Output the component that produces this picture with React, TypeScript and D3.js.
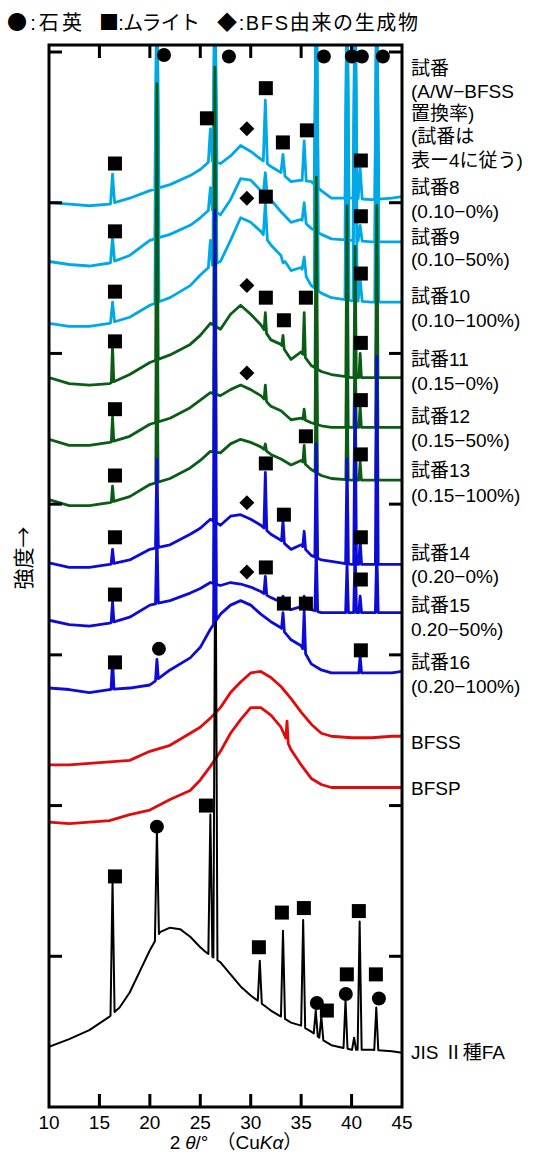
import React from 'react';
import * as d3 from 'd3';

const grid = [10, 12, 14, 16, 18, 20, 22, 24, 25, 26, 27, 28, 29, 30, 31, 32, 33, 34, 35, 36, 37, 38, 40, 42, 44, 45];
const gridFA = [10, 12, 14, 16, 17, 18, 19, 20, 21, 22, 23, 24, 25, 25.5, 27, 28, 29, 30, 31, 32, 33, 34, 35, 36, 37, 38, 40, 42, 44, 45];

// stacked intensities (arbitrary units), background of every pattern
const bg8 = [60.0, 59.9, 59.8, 59.9, 60.3, 60.8, 61.2, 61.8, 62.2, 62.8, 62.6, 63.1, 63.8, 63.4, 62.9, 62.4, 62.0, 61.4, 61.5, 61.4, 60.8, 60.3, 60.3, 60.2, 60.3, 60.4];
const bg9 = [56.1, 55.9, 55.8, 56.0, 56.5, 57.5, 57.9, 58.5, 59.0, 59.6, 59.2, 60.2, 61.6, 61.5, 60.8, 60.2, 59.4, 58.7, 58.9, 58.3, 57.9, 57.6, 57.5, 57.4, 57.4, 57.4];
const bg10 = [52.0, 51.8, 51.8, 52.0, 52.4, 53.2, 53.7, 54.5, 55.2, 55.8, 56.1, 57.5, 59.0, 58.7, 58.1, 57.2, 56.5, 55.5, 55.7, 54.5, 54.0, 53.7, 53.5, 53.4, 53.4, 53.4];
const bg11 = [48.4, 48.0, 47.9, 48.0, 48.6, 49.4, 49.9, 50.6, 51.2, 52.0, 51.6, 52.6, 53.2, 52.6, 51.9, 50.9, 50.6, 49.6, 50.1, 49.2, 48.8, 48.6, 48.4, 48.4, 48.4, 48.4];
const bg12 = [44.3, 43.9, 43.9, 44.1, 44.5, 45.3, 45.7, 46.4, 46.9, 47.4, 47.2, 47.6, 47.9, 47.6, 47.2, 46.5, 46.2, 45.6, 45.7, 45.4, 45.2, 45.1, 45.1, 45.1, 45.1, 45.1];
const bg13 = [40.3, 39.9, 39.9, 40.1, 40.5, 41.3, 41.7, 42.4, 42.9, 43.5, 43.4, 44.0, 44.3, 44.1, 43.8, 43.3, 43.0, 42.6, 42.9, 42.3, 41.9, 41.7, 41.6, 41.6, 41.6, 41.6];
const bg14 = [36.1, 35.8, 35.8, 36.0, 36.3, 37.0, 37.3, 38.0, 38.4, 39.0, 38.6, 39.2, 39.3, 39.0, 38.6, 38.0, 37.6, 37.0, 37.3, 36.6, 36.3, 36.2, 36.0, 36.0, 36.0, 36.0];
const bg15 = [32.3, 32.0, 31.9, 32.1, 32.5, 33.3, 33.6, 34.1, 34.4, 34.8, 34.6, 34.8, 34.7, 34.5, 34.2, 33.8, 33.5, 33.0, 33.2, 33.0, 32.8, 32.8, 32.8, 32.8, 32.8, 32.8];
const bg16 = [27.8, 27.7, 27.5, 27.7, 27.8, 28.0, 29.0, 29.8, 30.5, 31.7, 32.7, 33.3, 33.6, 33.3, 32.7, 32.2, 31.8, 31.0, 30.6, 29.4, 29.0, 28.8, 28.8, 28.8, 28.8, 28.9];
const bgBFSS = [22.7, 22.7, 22.8, 22.9, 23.0, 23.6, 24.0, 24.8, 25.2, 25.8, 26.5, 27.5, 28.2, 28.8, 28.9, 28.5, 27.9, 27.1, 26.2, 25.4, 24.8, 24.6, 24.5, 24.5, 24.6, 24.6];
const bgBFSP = [18.9, 18.8, 18.9, 19.0, 19.4, 19.7, 20.4, 21.0, 21.7, 22.6, 23.6, 24.8, 25.7, 26.5, 26.5, 26.0, 25.2, 23.7, 22.7, 21.8, 21.4, 21.2, 21.2, 21.2, 21.2, 21.2];
const bgFA = [4.0, 4.5, 5.1, 6.0, 6.6, 7.6, 9.0, 10.4, 11.6, 11.9, 11.8, 11.3, 10.6, 10.3, 9.6, 8.8, 8.0, 7.4, 6.9, 6.4, 6.0, 5.6, 5.4, 5.0, 4.5, 4.1, 3.8, 3.8, 3.7, 3.6];

// peaks: [2θ, top]
const pk8 = [[16.3, 61.9], [20.7, 75], [26.0, 64.9], [26.45, 75], [31.45, 66.8], [33.2, 63.2], [35.3, 64.1], [36.5, 75], [39.55, 75], [40.35, 75], [40.85, 62.3], [42.5, 75]];
const pk9 = [[16.3, 57.7], [20.7, 75], [26.0, 61.0], [26.45, 75], [31.45, 62.0], [35.3, 60.0], [36.5, 75], [39.55, 75], [40.35, 75], [40.85, 58.5], [42.5, 75]];
const pk10 = [[16.3, 53.4], [20.7, 75], [26.0, 57.5], [26.45, 75], [31.45, 60.0], [33.2, 56.0], [35.3, 56.4], [36.5, 75], [39.55, 75], [40.35, 75], [40.85, 55.0], [42.5, 75]];
const pk11 = [[16.3, 50.5], [20.7, 67.9], [26.45, 69], [31.45, 52.7], [33.2, 51.2], [35.3, 52.7], [36.5, 61.7], [39.55, 59.8], [40.35, 57.1], [40.85, 50.0], [42.5, 59.8]];
const pk12 = [[16.3, 45.8], [20.7, 58], [26.45, 62], [31.45, 47.9], [35.3, 46.3], [36.5, 55], [39.55, 53], [40.35, 51], [40.85, 46.5], [42.5, 54]];
const pk13 = [[16.3, 41.2], [20.7, 52], [26.45, 58], [31.45, 44.0], [35.3, 43.9], [36.5, 50], [39.55, 48], [40.35, 47], [40.85, 42.8], [42.5, 49]];
const pk14 = [[16.3, 37.0], [20.7, 43], [26.45, 59.5], [31.45, 42.1], [33.2, 38.9], [35.3, 38.2], [36.5, 44], [39.55, 43], [40.35, 47], [40.85, 37.6], [42.5, 49.8]];
const pk15 = [[16.3, 33.5], [20.7, 38], [26.45, 50], [31.45, 35.2], [33.2, 33.9], [35.3, 33.9], [36.5, 37], [39.55, 36], [40.35, 37], [40.85, 33.9], [42.5, 37]];
const pk16 = [[16.3, 29.7], [20.7, 29.7], [26.45, 45], [33.2, 32.8], [35.3, 32.9], [40.85, 29.9]];
const pkBFSS = [];
const pkBFSP = [[33.6, 25.6]];
const pkFA = [[16.3, 15.0], [20.7, 18.4], [26.0, 19.4], [26.5, 41], [30.9, 9.7], [33.2, 11.7], [35.2, 12.4], [36.45, 6.4], [37.0, 6.0], [39.4, 7.1], [40.25, 4.6], [40.8, 12.3], [42.45, 6.6]];

// phase markers: [2θ, level]
const quartz = [[21.4, 69.8], [27.84, 69.7], [37.25, 69.7], [40.03, 69.7], [41.02, 69.7], [43.1, 69.7], [20.9, 30.4], [20.7, 18.6], [36.56, 6.9], [39.43, 7.5], [42.71, 7.2]];
const mullite = [
  [31.5, 67.6], [25.66, 65.6], [35.57, 64.8], [33.19, 64.0], [16.54, 62.6], [40.92, 62.8],
  [31.5, 60.4], [16.54, 58.1], [40.92, 59.1],
  [31.5, 53.7], [33.29, 52.2], [35.47, 53.7], [16.54, 54.1], [40.92, 55.3],
  [16.54, 50.8], [40.92, 50.7], [16.54, 46.3], [40.92, 46.9], [35.47, 44.5],
  [16.54, 41.9], [40.92, 43.3], [31.5, 42.7], [33.29, 39.3], [16.54, 37.8], [40.92, 37.8],
  [31.5, 35.8], [33.29, 33.4], [35.47, 33.4], [16.54, 34.0], [40.92, 35.0], [16.54, 29.5], [40.92, 30.3],
  [16.54, 15.3], [25.56, 20.0], [30.81, 10.6], [33.09, 12.9], [35.27, 13.2], [37.55, 6.4], [39.53, 8.8], [40.72, 13.0], [42.41, 8.8],
];
const bfsProduct = [[29.62, 64.9], [29.62, 60.3], [29.62, 54.5], [29.62, 48.7], [29.62, 40.1], [29.62, 35.5]];

// sample names on the right, with the level each line sits at
const labelLines = [
  '試番', '(A/W−BFSS', '置換率)', '(試番は', '表ー4に従う)',
  '試番8', '(0.10−0%)', '試番9', '(0.10−50%)', '試番10', '(0.10−100%)',
  '試番11', '(0.15−0%)', '試番12', '(0.15−50%)', '試番13', '(0.15−100%)',
  '試番14', '(0.20−0%)', '試番15', '0.20−50%)', '試番16', '(0.20−100%)',
  'BFSS', 'BFSP', 'JIS Ⅱ種FA',
];
const labelLevels = [
  68.9, 67.4, 65.9, 64.4, 62.8,
  61.0, 59.4, 57.7, 56.2, 53.8, 52.2,
  49.6, 48.0, 45.8, 44.2, 42.2, 40.6,
  36.7, 35.2, 33.3, 31.7, 29.5, 27.9,
  24.2, 21.1, 3.6,
];
const xTicks = [10, 15, 20, 25, 30, 35, 40, 45];
const yTicks = [10, 20, 30, 40, 50, 60, 70];

const cyan = '#00a9e6';
const green = '#0b5d16';
const blue = '#0c0cd4';
const red = '#e00c0c';

// drawing order follows the overlap seen in the figure
const traces = [
  { id: 'bfss', angles: grid, bg: bgBFSS, peaks: pkBFSS, color: red, w: 0.15 },
  { id: 'bfsp', angles: grid, bg: bgBFSP, peaks: pkBFSP, color: red, w: 0.12 },
  { id: 'fa', angles: gridFA, bg: bgFA, peaks: pkFA, color: '#000', w: 0.2 },
  { id: 't8', angles: grid, bg: bg8, peaks: pk8, color: cyan, w: 0.2 },
  { id: 't9', angles: grid, bg: bg9, peaks: pk9, color: cyan, w: 0.2 },
  { id: 't10', angles: grid, bg: bg10, peaks: pk10, color: cyan, w: 0.2 },
  { id: 't11', angles: grid, bg: bg11, peaks: pk11, color: green, w: 0.12 },
  { id: 't12', angles: grid, bg: bg12, peaks: pk12, color: green, w: 0.12 },
  { id: 't13', angles: grid, bg: bg13, peaks: pk13, color: green, w: 0.12 },
  { id: 't14', angles: grid, bg: bg14, peaks: pk14, color: blue, w: 0.14 },
  { id: 't15', angles: grid, bg: bg15, peaks: pk15, color: blue, w: 0.14 },
  { id: 't16', angles: grid, bg: bg16, peaks: pk16, color: blue, w: 0.14 },
];

const font = '"Liberation Sans", "Noto Sans CJK JP", sans-serif';
const jpFont = '"Noto Sans CJK JP", sans-serif';

function tracePoints(angles, bg, peaks, w) {
  const base = d3.scaleLinear().domain(angles).range(bg);
  const pts = angles
    .filter(a => !peaks.some(([p]) => Math.abs(a - p) <= w))
    .map(a => [a, bg[angles.indexOf(a)]]);
  peaks.forEach(([p, top]) => {
    pts.push([p - w, base(p - w)], [p, top], [p + w, base(p + w)]);
  });
  return pts.sort((a, b) => a[0] - b[0]);
}

export default function App() {
  const width = 536;
  const height = 1162;
  const x = d3.scaleLinear().domain([10, 45]).range([49, 402]);
  const y = d3.scaleLinear().domain([0, 70]).range([1107, 52]);
  const top = 45;
  const left = x(10);
  const right = x(45);
  const bottom = y(0);
  const tickLen = 13;

  const line = d3.line().x(d => x(d[0])).y(d => y(d[1])).curve(d3.curveLinear);

  return (
    <svg width={width} height={height} style={{ display: 'block', position: 'absolute', left: 0, top: 0, background: '#fff' }}>
      <defs>
        <clipPath id='plot-clip'>
          <rect x={left} y={top} width={right - left} height={bottom - top} />
        </clipPath>
      </defs>

      {/* legend */}
      <g fontFamily={font} fontSize={20} fill='#000'>
        <text x={7} y={30} textLength={75}><tspan fontFamily={jpFont}>●</tspan>:石英</text>
        <text x={99} y={30} textLength={101}><tspan fontFamily={jpFont}>■</tspan>:ムライト</text>
        <text x={217} y={30} textLength={201}><tspan fontFamily={jpFont}>◆</tspan>:BFS由来の生成物</text>
      </g>

      {/* patterns */}
      <g clipPath='url(#plot-clip)'>
        {traces.map(t => (
          <path
            key={t.id}
            d={line(tracePoints(t.angles, t.bg, t.peaks, t.w))}
            fill='none'
            stroke={t.color}
            strokeWidth={t.id === 'fa' ? 2 : 2.8}
            strokeLinejoin='round'
          />
        ))}
      </g>

      {/* markers */}
      <g fill='#000'>
        {quartz.map((d, i) => (
          <circle key={'q' + i} cx={x(d[0])} cy={y(d[1])} r={7} />
        ))}
        {mullite.map((d, i) => (
          <rect key={'m' + i} x={x(d[0]) - 7} y={y(d[1]) - 7} width={14} height={14} />
        ))}
        {bfsProduct.map((d, i) => (
          <rect
            key={'b' + i}
            x={-5.3}
            y={-5.3}
            width={10.6}
            height={10.6}
            transform={`translate(${x(d[0])},${y(d[1])}) rotate(45)`}
          />
        ))}
      </g>

      {/* frame and ticks */}
      <g stroke='#000' strokeWidth={3} fill='none'>
        <rect x={left} y={top} width={right - left} height={bottom - top} />
        {xTicks.slice(1, -1).map(v => (
          <g key={'xt' + v}>
            <line x1={x(v)} x2={x(v)} y1={bottom} y2={bottom - tickLen} />
            <line x1={x(v)} x2={x(v)} y1={top} y2={top + tickLen} />
          </g>
        ))}
        {yTicks.map(v => (
          <g key={'yt' + v}>
            <line x1={left} x2={left + tickLen} y1={y(v)} y2={y(v)} />
            <line x1={right} x2={right - tickLen} y1={y(v)} y2={y(v)} />
          </g>
        ))}
      </g>

      {/* tick labels */}
      <g fontFamily={font} fontSize={19} textAnchor='middle'>
        {xTicks.map(v => (
          <text key={'xl' + v} x={x(v)} y={1129}>{v}</text>
        ))}
        <text x={236} y={1149}>
          2<tspan dx={5} fontStyle='italic'>θ</tspan>/°<tspan dx={8}>（Cu</tspan>
          <tspan fontStyle='italic'>Kα</tspan>）
        </text>
      </g>

      <text
        fontFamily={jpFont}
        fontSize={21}
        textAnchor='middle'
        transform='translate(31,558) rotate(-90)'
      >強度→</text>

      {/* sample labels */}
      <g fontFamily={font} fontSize={19}>
        {labelLines.map((s, i) => (
          <text key={'lb' + i} x={411} y={y(labelLevels[i]) + 6.5}>{s}</text>
        ))}
      </g>
    </svg>
  );
}
